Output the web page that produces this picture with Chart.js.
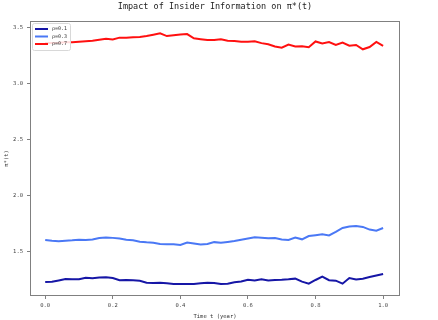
<!DOCTYPE html>
<html>
<head>
<meta charset="utf-8">
<script src="https://cdn.jsdelivr.net/npm/chart.js@4/dist/chart.umd.min.js"></script>
<style>
  html, body { margin: 0; padding: 0; background: #fff; }
  #wrap { width: 438px; height: 320px; }
</style>
</head>
<body>
<div id="wrap"><canvas id="piChart" width="438" height="320"></canvas></div>
<script>
// Données
const times = [0.00, 0.02, 0.04, 0.06, 0.08, 0.10, 0.12, 0.14, 0.16, 0.18,
  0.20, 0.22, 0.24, 0.26, 0.28, 0.30, 0.32, 0.34, 0.36, 0.38,
  0.40, 0.42, 0.44, 0.46, 0.48, 0.50, 0.52, 0.54, 0.56, 0.58,
  0.60, 0.62, 0.64, 0.66, 0.68, 0.70, 0.72, 0.74, 0.76, 0.78,
  0.80, 0.82, 0.84, 0.86, 0.88, 0.90, 0.92, 0.94, 0.96, 0.98, 1.00];

const rho01 = [1.232, 1.234, 1.246, 1.258, 1.257, 1.256, 1.270, 1.266, 1.272, 1.274,
  1.268, 1.248, 1.250, 1.247, 1.243, 1.226, 1.222, 1.225, 1.220, 1.214,
  1.214, 1.214, 1.214, 1.220, 1.226, 1.224, 1.214, 1.216, 1.230, 1.236,
  1.252, 1.246, 1.256, 1.245, 1.250, 1.252, 1.256, 1.262, 1.235, 1.217,
  1.250, 1.280, 1.248, 1.244, 1.217, 1.268, 1.255, 1.262, 1.276, 1.290, 1.304];

const rho03 = [1.607, 1.600, 1.595, 1.600, 1.604, 1.610, 1.606, 1.612, 1.625, 1.630,
  1.626, 1.620, 1.610, 1.604, 1.592, 1.586, 1.582, 1.572, 1.568, 1.570,
  1.562, 1.585, 1.575, 1.566, 1.572, 1.588, 1.583, 1.590, 1.598, 1.610,
  1.620, 1.631, 1.628, 1.622, 1.625, 1.612, 1.608, 1.628, 1.613, 1.642,
  1.650, 1.658, 1.648, 1.679, 1.715, 1.728, 1.732, 1.724, 1.700, 1.690, 1.714];

const rho07 = [3.365, 3.366, 3.368, 3.372, 3.373, 3.378, 3.382, 3.386, 3.395, 3.405,
  3.398, 3.414, 3.412, 3.418, 3.420, 3.428, 3.440, 3.452, 3.428, 3.436,
  3.442, 3.446, 3.408, 3.400, 3.393, 3.392, 3.400, 3.387, 3.383, 3.378,
  3.378, 3.382, 3.365, 3.355, 3.335, 3.324, 3.352, 3.335, 3.338, 3.328,
  3.380, 3.362, 3.375, 3.348, 3.370, 3.342, 3.348, 3.310, 3.330, 3.376, 3.340];

const seriesLabels = ["ρ=0.1", "ρ=0.3", "ρ=0.7"];
const seriesColors = ["#1616a6", "#4a78f5", "#ff1010"];
const xTicks = [0.0, 0.2, 0.4, 0.6, 0.8, 1.0];
const yTicks = [1.5, 2.0, 2.5, 3.0, 3.5];
const chartTitle = "Impact of Insider Information on π*(t)";

const FONT = "'DejaVu Sans Mono', 'Liberation Mono', monospace";

function toPoints(values) {
  return values.map((v, i) => ({ x: times[i], y: v }));
}

// titre, cadre gris et légende dans la zone du graphique
const framePlugin = {
  id: "frame",
  afterDatasetsDraw(chart) {
    const { ctx, chartArea: a } = chart;
    ctx.save();
    ctx.strokeStyle = "#808080";
    ctx.lineWidth = 1;
    ctx.strokeRect(a.left + 0.5, a.top + 0.5, a.right - a.left - 1, a.bottom - a.top - 1);

    // titre centré sur les axes
    ctx.fillStyle = "#222";
    ctx.font = "8.5px " + FONT;
    ctx.textAlign = "center";
    ctx.textBaseline = "middle";
    ctx.fillText(chartTitle, (a.left + a.right) / 2, 7);

    // légende
    const lx = a.left + 2, ly = a.top + 2;
    ctx.fillStyle = "rgba(255,255,255,0.85)";
    ctx.strokeStyle = "#d8d8d8";
    ctx.beginPath();
    ctx.roundRect(lx + 0.5, ly + 0.5, 38, 27, 2);
    ctx.fill();
    ctx.stroke();
    ctx.font = "5px " + FONT;
    ctx.textAlign = "left";
    chart.data.datasets.forEach((ds, i) => {
      const y = ly + 6 + i * 7.5;
      ctx.strokeStyle = ds.borderColor;
      ctx.lineWidth = 2;
      ctx.beginPath();
      ctx.moveTo(lx + 3, y);
      ctx.lineTo(lx + 16, y);
      ctx.stroke();
      ctx.fillStyle = "#333";
      ctx.fillText(ds.label, lx + 20, y);
    });
    ctx.restore();
  }
};

const ctx = document.getElementById("piChart");

new Chart(ctx, {
  type: "line",
  data: {
    datasets: [rho01, rho03, rho07].map((vals, i) => ({
      label: seriesLabels[i],
      data: toPoints(vals),
      borderColor: seriesColors[i],
      borderWidth: 2,
      pointRadius: 0,
      tension: 0,
      fill: false
    }))
  },
  options: {
    responsive: false,
    animation: false,
    devicePixelRatio: 1,
    layout: { padding: { left: 0, right: 38, top: 21, bottom: 0 } },
    plugins: {
      legend: { display: false },
      tooltip: { enabled: false },
      title: { display: false }
    },
    scales: {
      x: {
        type: "linear",
        min: -0.045,
        max: 1.05,
        afterBuildTicks: axis => { axis.ticks = xTicks.map(v => ({ value: v })); },
        afterFit: axis => { axis.height = 24; },
        ticks: {
          color: "#444",
          font: { family: FONT, size: 5.5 },
          padding: 3,
          maxRotation: 0,
          callback: v => v.toFixed(1)
        },
        grid: { drawOnChartArea: false, drawTicks: true, tickLength: 3, color: "#808080" },
        border: { display: false },
        title: {
          display: true,
          text: "Time t (year)",
          color: "#333",
          font: { family: FONT, size: 5.5 },
          padding: { top: 2, bottom: 0 }
        }
      },
      y: {
        min: 1.107,
        max: 3.5625,
        afterBuildTicks: axis => { axis.ticks = yTicks.map(v => ({ value: v })); },
        afterFit: axis => { axis.width = 30; },
        ticks: {
          color: "#444",
          font: { family: FONT, size: 5.5 },
          padding: 4,
          callback: v => v.toFixed(1)
        },
        grid: { drawOnChartArea: false, drawTicks: true, tickLength: 3, color: "#808080" },
        border: { display: false },
        title: {
          display: true,
          text: "π*(t)",
          color: "#333",
          font: { family: FONT, size: 5.5 },
          padding: { top: 3, bottom: 2 }
        }
      }
    }
  },
  plugins: [framePlugin]
});
</script>
</body>
</html>
